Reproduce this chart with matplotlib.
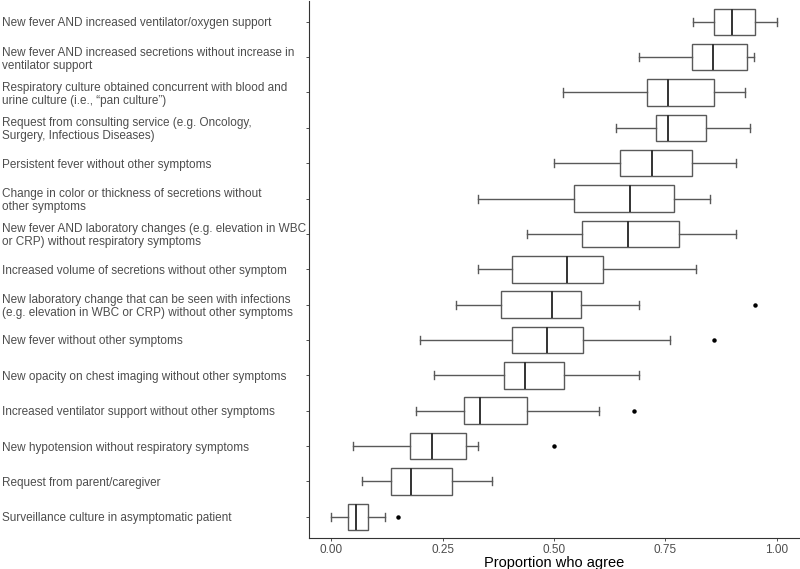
import matplotlib
matplotlib.use("Agg")
import matplotlib.pyplot as plt

plt.rcParams['font.family'] = ['Liberation Sans', 'DejaVu Sans']

# categories, top to bottom
labels = [
    "New fever AND increased ventilator/oxygen support",
    "New fever AND increased secretions without increase in\nventilator support",
    "Respiratory culture obtained concurrent with blood and\nurine culture (i.e., \u201cpan culture\u201d)",
    "Request from consulting service (e.g. Oncology,\nSurgery, Infectious Diseases)",
    "Persistent fever without other symptoms",
    "Change in color or thickness of secretions without\nother symptoms",
    "New fever AND laboratory changes (e.g. elevation in WBC\nor CRP) without respiratory symptoms",
    "Increased volume of secretions without other symptom",
    "New laboratory change that can be seen with infections\n(e.g. elevation in WBC or CRP) without other symptoms",
    "New fever without other symptoms",
    "New opacity on chest imaging without other symptoms",
    "Increased ventilator support without other symptoms",
    "New hypotension without respiratory symptoms",
    "Request from parent/caregiver",
    "Surveillance culture in asymptomatic patient",
]

whisker_lo = [0.811, 0.690, 0.521, 0.640, 0.501, 0.330, 0.440, 0.330, 0.280, 0.200, 0.231, 0.190, 0.050, 0.070, 0.000]
q1         = [0.858, 0.810, 0.708, 0.728, 0.648, 0.545, 0.563, 0.406, 0.380, 0.406, 0.388, 0.299, 0.177, 0.135, 0.038]
median     = [0.900, 0.856, 0.755, 0.755, 0.720, 0.670, 0.666, 0.530, 0.495, 0.485, 0.436, 0.335, 0.226, 0.180, 0.056]
q3         = [0.950, 0.933, 0.860, 0.842, 0.810, 0.770, 0.780, 0.610, 0.561, 0.565, 0.523, 0.440, 0.303, 0.271, 0.083]
whisker_hi = [1.000, 0.949, 0.929, 0.940, 0.909, 0.850, 0.909, 0.819, 0.690, 0.760, 0.690, 0.601, 0.330, 0.360, 0.120]
outliers   = [[], [], [], [], [], [], [], [], [0.950], [0.860], [], [0.680], [0.500], [], [0.150]]

stats = []
for i in range(len(labels)):
    stats.append(dict(whislo=whisker_lo[i], q1=q1[i], med=median[i], q3=q3[i],
                      whishi=whisker_hi[i], fliers=outliers[i], label=labels[i]))

n = len(labels)
positions = list(range(n, 0, -1))

fig = plt.figure(figsize=(8, 5.69), dpi=100)
ax = fig.add_axes([0.386, 0.0545, 0.613, 0.9445])

line_col = '#595959'
ax.bxp(stats, positions=positions, vert=False, widths=0.75, capwidths=0.23,
       patch_artist=True,
       boxprops=dict(facecolor='white', edgecolor=line_col, linewidth=1.0),
       whiskerprops=dict(color=line_col, linewidth=1.0),
       capprops=dict(color=line_col, linewidth=1.0),
       medianprops=dict(color='#333333', linewidth=1.4),
       flierprops=dict(marker='o', markersize=2.2, markerfacecolor='black',
                       markeredgecolor='black'))

ax.set_xlim(-0.05, 1.05)
ax.set_ylim(0.4, n + 0.6)
ax.set_xticks([0, 0.25, 0.5, 0.75, 1.0])
ax.set_xticklabels(["0.00", "0.25", "0.50", "0.75", "1.00"])
ax.set_yticks(positions)
ax.set_yticklabels(labels, ha='left', linespacing=1.1)

for side in ['top', 'right']:
    ax.spines[side].set_visible(False)
for side in ['left', 'bottom']:
    ax.spines[side].set_color('#333333')
    ax.spines[side].set_linewidth(0.8)

ax.tick_params(axis='y', length=2.5, width=0.6, color='#333333', pad=218.5,
               labelsize=8.5, labelcolor='#4d4d4d')
ax.tick_params(axis='x', length=2.5, width=0.6, color='#333333', pad=1.5,
               labelsize=8.5, labelcolor='#4d4d4d')
ax.set_xlabel("Proportion who agree", fontsize=10.5, color='black', labelpad=0.5)

fig.savefig("out.png", dpi=100)
